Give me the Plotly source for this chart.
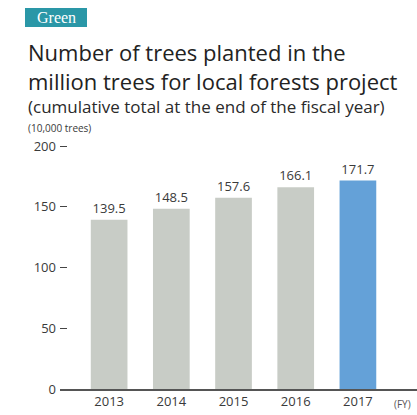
import plotly.graph_objects as go

# Cumulative trees planted (unit: 10,000 trees), fiscal years
years = ["2013", "2014", "2015", "2016", "2017"]
trees = [139.5, 148.5, 157.6, 166.1, 171.7]
bar_colors = ["#c8ccc6", "#c8ccc6", "#c8ccc6", "#c8ccc6", "#64a1d8"]
y_ticks = [0, 50, 100, 150, 200]

W, H = 417, 415
M_L, M_R, M_T, M_B = 60, 0, 145, 26
plot_h = H - M_T - M_B
plot_w = W - M_L - M_R

FONT = "Open Sans"
TXT = "#3a3a3a"


def py(y):
    """Pixel row -> paper y."""
    return (H - M_B - y) / plot_h


def px(x):
    """Pixel column -> paper x."""
    return (x - M_L) / plot_w


fig = go.Figure(
    go.Bar(
        x=years,
        y=trees,
        marker=dict(color=bar_colors, line=dict(width=0)),
        width=0.59,
        text=[f"{v:.1f}" for v in trees],
        textposition="outside",
        textfont=dict(family=FONT, size=13, color=TXT),
        cliponaxis=False,
    )
)

fig.update_layout(
    width=W,
    height=H,
    margin=dict(l=M_L, r=M_R, t=M_T, b=M_B, pad=0),
    paper_bgcolor="white",
    plot_bgcolor="white",
    showlegend=False,
    font=dict(family=FONT, color=TXT),
    xaxis=dict(
        type="category",
        range=[-0.79, 4.95],
        showline=True,
        linecolor="#555555",
        linewidth=1.5,
        showgrid=False,
        ticks="",
        tickfont=dict(family=FONT, size=13, color=TXT),
        fixedrange=True,
    ),
    yaxis=dict(
        range=[0, 201],
        tickvals=y_ticks,
        showgrid=False,
        zeroline=False,
        showline=False,
        ticks="inside",
        ticklen=7,
        tickwidth=1,
        tickcolor="#444444",
        tickfont=dict(family=FONT, size=13, color=TXT),
        ticklabelstandoff=3,
        fixedrange=True,
    ),
)

# "Green" section badge
fig.add_shape(
    type="rect", xref="paper", yref="paper",
    x0=px(25), x1=px(87), y0=py(27), y1=py(8),
    fillcolor="#2a97a7", line=dict(width=0), layer="above",
)
fig.add_annotation(
    text="Green", xref="paper", yref="paper",
    x=px(56), y=py(17.5), xanchor="center", yanchor="middle",
    showarrow=False,
    font=dict(family="Liberation Serif", size=16, color="white"),
)

# Headline
fig.add_annotation(
    text="Number of trees planted in the<br>million trees for local forests project",
    xref="paper", yref="paper", x=px(26), y=py(35),
    xanchor="left", yanchor="top", align="left", showarrow=False,
    font=dict(family=FONT, size=22, color="#222222"),
)
fig.add_annotation(
    text="(cumulative total at the end of the fiscal year)",
    xref="paper", yref="paper", x=px(26), y=py(106),
    xanchor="left", yanchor="middle", align="left", showarrow=False,
    font=dict(family=FONT, size=17, color="#2a2a2a", weight=500),
)
fig.add_annotation(
    text="(10,000 trees)",
    xref="paper", yref="paper", x=px(26), y=py(128),
    xanchor="left", yanchor="middle", showarrow=False,
    font=dict(family=FONT, size=10, color=TXT),
)
fig.add_annotation(
    text="(FY)",
    xref="paper", yref="paper", x=px(392), y=py(404),
    xanchor="left", yanchor="middle", showarrow=False,
    font=dict(family=FONT, size=10, color="#555555"),
)

fig.write_html("out.html", config={"displayModeBar": False})
